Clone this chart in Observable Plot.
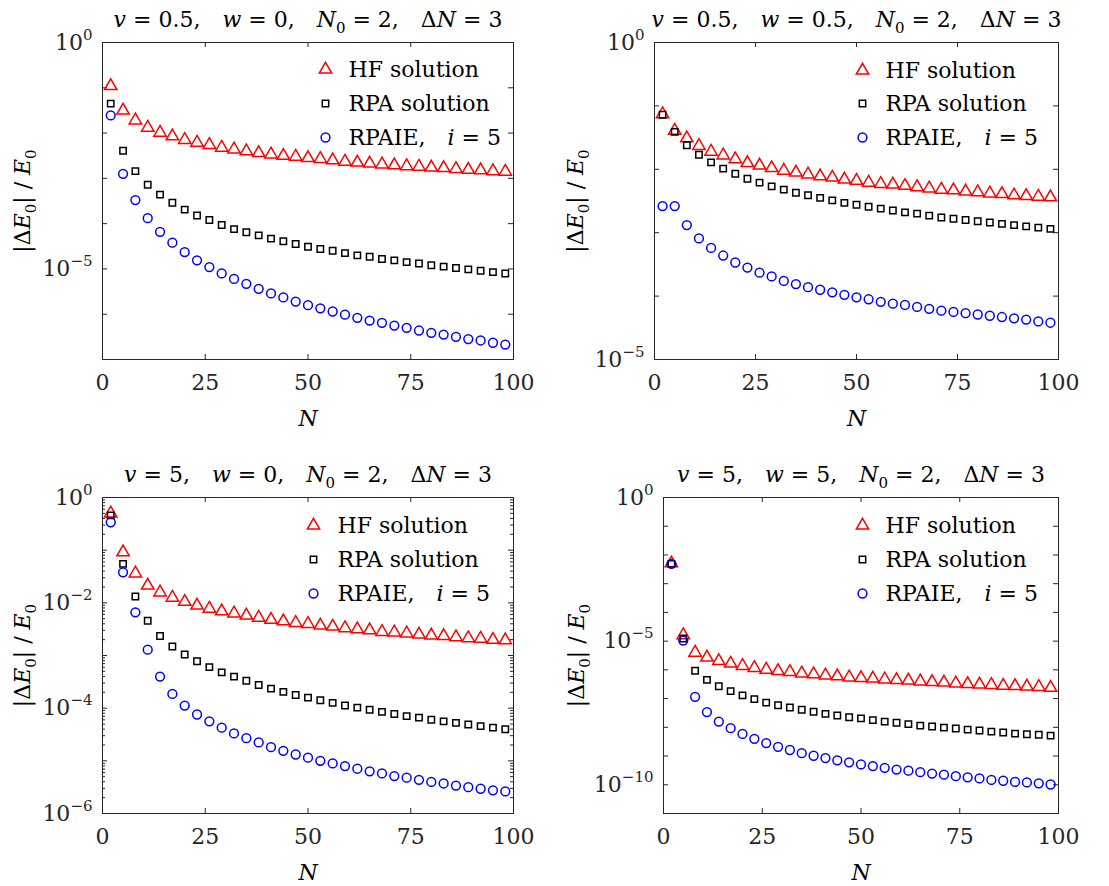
<!DOCTYPE html>
<html><head><meta charset="utf-8">
<script src="https://cdn.jsdelivr.net/npm/d3@7"></script>
<script src="https://cdn.jsdelivr.net/npm/@observablehq/plot@0.6"></script>
<style>
body{margin:0;background:#fff}
#fig{position:relative;width:1109px;height:886px;background:#fff}
#fig>div{position:absolute}
#fig svg text{font-family:"DejaVu Serif",serif;font-size:22px}
</style></head><body><div id="fig"></div>
<script>
// x categories (N)
const N = [2,5,8,11,14,17,20,23,26,29,32,35,38,41,44,47,50,53,56,59,62,65,68,71,74,77,80,83,86,89,92,95,98];
const xTicks = [0,25,50,75,100];
const seriesNames = ["HF solution","RPA solution","RPAIE, i = 5"];

// values as log10(|ΔE0|/E0)
// panel A: v = 0.5, w = 0
const hfA  = [-0.96,-1.50,-1.72,-1.88,-1.99,-2.07,-2.15,-2.21,-2.26,-2.32,-2.36,-2.40,-2.44,-2.47,-2.50,-2.52,-2.55,-2.57,-2.60,-2.63,-2.65,-2.67,-2.69,-2.71,-2.73,-2.74,-2.76,-2.77,-2.79,-2.81,-2.82,-2.84,-2.85];
const rpaA = [-1.35,-2.39,-2.84,-3.14,-3.36,-3.54,-3.69,-3.82,-3.92,-4.03,-4.12,-4.19,-4.26,-4.33,-4.39,-4.45,-4.51,-4.56,-4.60,-4.65,-4.70,-4.73,-4.78,-4.81,-4.85,-4.88,-4.92,-4.95,-4.98,-5.01,-5.04,-5.07,-5.10];
const ieA  = [-1.61,-2.90,-3.48,-3.88,-4.18,-4.42,-4.63,-4.81,-4.96,-5.10,-5.22,-5.33,-5.44,-5.54,-5.63,-5.72,-5.80,-5.87,-5.94,-6.01,-6.08,-6.14,-6.19,-6.25,-6.30,-6.36,-6.41,-6.45,-6.50,-6.55,-6.58,-6.63,-6.67];
// panel B: v = 0.5, w = 0.5
const hfB  = [-1.13,-1.39,-1.51,-1.63,-1.72,-1.78,-1.84,-1.90,-1.94,-1.98,-2.02,-2.05,-2.08,-2.11,-2.13,-2.16,-2.18,-2.21,-2.23,-2.24,-2.26,-2.28,-2.30,-2.32,-2.33,-2.35,-2.36,-2.38,-2.39,-2.41,-2.42,-2.43,-2.44];
const rpaB = [-1.14,-1.41,-1.62,-1.77,-1.89,-1.99,-2.07,-2.15,-2.21,-2.27,-2.32,-2.37,-2.41,-2.45,-2.49,-2.53,-2.56,-2.59,-2.62,-2.65,-2.68,-2.70,-2.73,-2.76,-2.78,-2.80,-2.82,-2.84,-2.86,-2.88,-2.90,-2.92,-2.94];
const ieB  = [-2.58,-2.58,-2.88,-3.09,-3.24,-3.36,-3.47,-3.55,-3.63,-3.69,-3.76,-3.81,-3.86,-3.90,-3.94,-3.98,-4.02,-4.05,-4.09,-4.12,-4.14,-4.17,-4.20,-4.23,-4.25,-4.27,-4.29,-4.31,-4.33,-4.35,-4.37,-4.40,-4.42];
// panel C: v = 5, w = 0
const hfC  = [-0.30,-1.04,-1.44,-1.67,-1.80,-1.90,-1.98,-2.05,-2.11,-2.16,-2.20,-2.24,-2.28,-2.32,-2.35,-2.38,-2.40,-2.43,-2.45,-2.48,-2.50,-2.52,-2.55,-2.56,-2.58,-2.60,-2.62,-2.63,-2.65,-2.67,-2.68,-2.70,-2.71];
const rpaC = [-0.34,-1.26,-1.88,-2.34,-2.63,-2.83,-2.98,-3.11,-3.22,-3.32,-3.40,-3.48,-3.56,-3.63,-3.69,-3.75,-3.80,-3.85,-3.90,-3.95,-3.99,-4.03,-4.07,-4.11,-4.15,-4.18,-4.22,-4.25,-4.28,-4.31,-4.34,-4.37,-4.40];
const ieC  = [-0.47,-1.42,-2.18,-2.89,-3.40,-3.73,-3.95,-4.12,-4.25,-4.37,-4.48,-4.57,-4.65,-4.74,-4.81,-4.88,-4.94,-5.00,-5.05,-5.10,-5.15,-5.20,-5.24,-5.29,-5.32,-5.36,-5.40,-5.43,-5.47,-5.50,-5.53,-5.56,-5.58];
// panel D: v = 5, w = 5
const hfD  = [-2.29,-4.79,-5.40,-5.57,-5.69,-5.78,-5.86,-5.93,-5.99,-6.04,-6.07,-6.12,-6.15,-6.19,-6.22,-6.26,-6.28,-6.30,-6.33,-6.35,-6.37,-6.40,-6.42,-6.44,-6.47,-6.49,-6.51,-6.52,-6.55,-6.56,-6.58,-6.59,-6.62];
const rpaD = [-2.31,-4.91,-6.03,-6.35,-6.57,-6.74,-6.89,-7.02,-7.14,-7.23,-7.31,-7.39,-7.46,-7.53,-7.59,-7.65,-7.69,-7.75,-7.80,-7.84,-7.89,-7.94,-7.97,-8.01,-8.04,-8.08,-8.11,-8.15,-8.18,-8.22,-8.24,-8.26,-8.29];
const ieD  = [-2.31,-4.98,-6.94,-7.47,-7.80,-8.03,-8.23,-8.40,-8.55,-8.68,-8.79,-8.90,-8.99,-9.07,-9.15,-9.22,-9.29,-9.35,-9.41,-9.47,-9.51,-9.56,-9.61,-9.65,-9.70,-9.74,-9.78,-9.83,-9.86,-9.90,-9.92,-9.95,-9.99];

// y axis: exponent ranges and labeled exponents
const yRangeA = [-7, 0], yLabA = [0, -5];
const yRangeB = [-5, 0], yLabB = [0, -5];
const yRangeC = [-6, 0], yLabC = [0, -2, -4, -6];
const yRangeD = [-11, 0], yLabD = [0, -5, -10];

const FONT = "DejaVu Serif";
const FS = 22, FSS = 15;
const styles = [
  {symbol: "triangle", stroke: "#ff0000", r: 4.6},
  {symbol: "square", stroke: "#000000", r: 3.6},
  {symbol: "circle", stroke: "#0000ff", r: 4.4}
];

const panels = [
  {left: 0, top: 0, mL: 102, mR: 41, mT: 42, mB: 84, yr: yRangeA, yl: yLabA, minor: false,
   v: "0.5", w: "0", data: [hfA, rpaA, ieA], leg: {mx: 223, tx: 246, rows: [27, 61, 95]}, ydx: -80},
  {left: 555, top: 0, mL: 99, mR: 51, mT: 42, mB: 84, yr: yRangeB, yl: yLabB, minor: false,
   v: "0.5", w: "0.5", data: [hfB, rpaB, ieB], leg: {mx: 208, tx: 231, rows: [28, 61, 95]}, ydx: -79},
  {left: 0, top: 443, mL: 102, mR: 41, mT: 54, mB: 73, yr: yRangeC, yl: yLabC, minor: true,
   v: "5", w: "0", data: [hfC, rpaC, ieC], leg: {mx: 211, tx: 235, rows: [28, 62, 96]}, ydx: -80},
  {left: 555, top: 443, mL: 108, mR: 51, mT: 54, mB: 73, yr: yRangeD, yl: yLabD, minor: false,
   v: "5", w: "5", data: [hfD, rpaD, ieD], leg: {mx: 199, tx: 222, rows: [28, 62, 96]}, ydx: -87}
];

const W = 554, H = 443;
const SP = "\u2003";

function rich(el, segs) {
  const t = d3.select(el);
  t.text("");
  let shift = 0;
  for (const [txt, kind] of segs) {
    const small = kind === "sub" || kind === "sup";
    const target = kind === "sub" ? 0.3 : kind === "sup" ? -0.45 : 0;
    const ts = t.append("tspan").text(txt);
    if (small) ts.attr("font-size", FSS + "px");
    if (target !== shift) ts.attr("dy", ((target - shift) * FS) + "px");
    if (kind === "i") ts.attr("font-style", "italic");
    shift = target;
  }
}

const fig = document.getElementById("fig");

panels.forEach((p, pi) => {
  const fw = W - p.mL - p.mR, fh = H - p.mT - p.mB;
  const decades = d3.range(p.yr[0], p.yr[1] + 1).map(e => Math.pow(10, e));
  const minorTicks = [];
  if (p.minor) {
    for (let e = p.yr[0]; e < p.yr[1]; e++) for (let k = 2; k <= 9; k++) minorTicks.push(k * Math.pow(10, e));
  }
  const labTicks = p.yl.map(e => Math.pow(10, e));
  const rows = [];
  p.data.forEach((arr, si) => arr.forEach((e, i) => rows.push({N: N[i], y: Math.pow(10, e), s: si})));

  const tickStyle = {stroke: "#262626", strokeWidth: 1};
  const tx = {fontFamily: FONT, fontSize: FS};
  const marks = [
    Plot.tickX(xTicks, {x: d => d, insetTop: fh - 5, ...tickStyle}),
    Plot.tickX(xTicks, {x: d => d, insetBottom: fh - 5, ...tickStyle}),
    Plot.tickY(decades, {y: d => d, insetRight: fw - 5, ...tickStyle}),
    Plot.tickY(decades, {y: d => d, insetLeft: fw - 5, ...tickStyle}),
    Plot.tickY(minorTicks, {y: d => d, insetRight: fw - 3, ...tickStyle}),
    Plot.tickY(minorTicks, {y: d => d, insetLeft: fw - 3, ...tickStyle}),
    Plot.axisX({ticks: xTicks, tickSize: 0, tickPadding: 15, tickFormat: d => String(d), label: null, fill: "#262626", ...tx}),
    Plot.axisY({ticks: labTicks, tickSize: 0, tickPadding: 10, label: null, fill: "#262626", ...tx,
      tickFormat: d => { const e = Math.round(Math.log10(d)); return "10^" + (e < 0 ? "\u2212" + (-e) : String(e)); }}),
    ...p.data.map((arr, si) => Plot.dot(rows.filter(r => r.s === si), {
      x: "N", y: "y", symbol: styles[si].symbol, stroke: styles[si].stroke, r: styles[si].r,
      strokeWidth: 1.5, fill: "none"})),
    Plot.frame({stroke: "#262626", strokeWidth: 1}),
    ...seriesNames.flatMap((name, si) => [
      Plot.dot([name], {frameAnchor: "top-left", dx: p.leg.mx, dy: p.leg.rows[si],
        symbol: styles[si].symbol, stroke: styles[si].stroke, r: styles[si].r, strokeWidth: 1.5, fill: "white"}),
      Plot.text([name], {frameAnchor: "top-left", dx: p.leg.tx, dy: p.leg.rows[si], text: d => d,
        textAnchor: "start", lineAnchor: "middle", fill: "black", className: "rich-leg" + si, ...tx})
    ]),
    Plot.text(["title"], {frameAnchor: "top", dy: -16, text: d => d, lineAnchor: "bottom", fill: "black", className: "rich-title", ...tx}),
    Plot.text(["ylabel"], {frameAnchor: "left", dx: p.ydx, rotate: -90, text: d => d, lineAnchor: "middle", textAnchor: "middle", fill: "black", className: "rich-ylab", ...tx}),
    Plot.text(["N"], {frameAnchor: "bottom", dy: 66, text: d => d, lineAnchor: "bottom", fill: "black", className: "rich-xlab", ...tx})
  ];

  const plot = Plot.plot({
    width: W, height: H,
    marginLeft: p.mL, marginRight: p.mR, marginTop: p.mT, marginBottom: p.mB,
    style: {fontFamily: FONT, fontSize: FS + "px", background: "white", overflow: "visible"},
    x: {domain: [0, 100]},
    y: {type: "log", domain: [Math.pow(10, p.yr[0]), Math.pow(10, p.yr[1])]},
    marks
  });

  const svg = d3.select(plot);
  svg.selectAll(".rich-title text").each(function() {
    rich(this, [["v","i"],[" = " + p.v + "," + SP],["w","i"],[" = " + p.w + "," + SP],["N","i"],["0","sub"],[" = 2," + SP + "\u0394"],["N","i"],[" = 3"]]);
  });
  svg.selectAll(".rich-ylab text").each(function() {
    rich(this, [["|\u0394"],["E","i"],["0","sub"],["| / "],["E","i"],["0","sub"]]);
  });
  svg.selectAll(".rich-xlab text").each(function() { rich(this, [["N","i"]]); });
  svg.selectAll(".rich-leg2 text").each(function() { rich(this, [["RPAIE," + SP],["i","i"],[" = 5"]]); });
  svg.selectAll('[aria-label="y-axis tick label"] text').each(function() {
    const s = d3.select(this).text();
    const m = s.match(/^10\^(.*)$/);
    if (m) rich(this, [["10"],[m[1],"sup"]]);
  });
  svg.selectAll("text").attr("font-size", FS).attr("font-family", FONT).style("white-space", "pre");

  const div = document.createElement("div");
  div.style.left = p.left + "px";
  div.style.top = p.top + "px";
  div.appendChild(plot);
  fig.appendChild(div);
});
</script>
</body></html>
